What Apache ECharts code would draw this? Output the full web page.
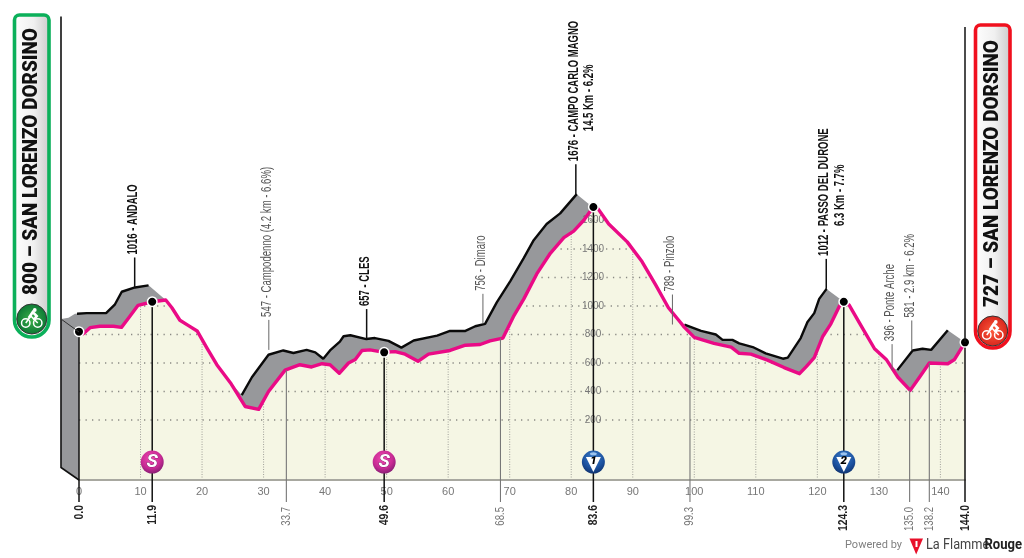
<!DOCTYPE html>
<html><head><meta charset="utf-8">
<style>html,body{margin:0;padding:0;background:#fff}#c{width:1024px;height:558px}</style>
<script src="https://cdn.jsdelivr.net/npm/echarts@6/dist/echarts.min.js"></script>
</head><body><div id="c"></div>
<script>
const pinkKm=[0,0.7,1.8,3.4,5.6,6.9,8.0,9.6,11.9,14.1,15.1,16.4,17.8,19.2,20.8,22.4,24.6,27.0,29.2,30.8,33.5,35.9,37.8,39.5,40.8,42.3,43.8,44.9,46.0,47.3,49.6,51.4,53.0,55.1,56.8,60.3,62.8,65.2,66.8,68.9,70.6,72.3,74.4,76.6,78.8,80.4,82.0,83.6,84.4,86.1,89.1,91.5,93.7,95.8,97.7,98.4,100.0,103.2,106.0,107.3,109.2,111.9,114.6,117.1,118.2,119.5,120.9,122.2,123.6,124.3,125.2,127.1,129.3,131.2,133.1,135.1,136.6,138.2,141.2,142.3,144];
const pinkElev=[820,805,848,858,858,850,912,1005,1030,1042,988,900,862,825,705,588,462,295,275,400,550,588,572,595,588,528,600,625,688,692,675,680,662,612,662,688,725,730,755,775,925,1050,1225,1370,1480,1525,1600,1695,1680,1575,1450,1312,1150,988,888,850,780,738,712,668,662,620,568,525,575,638,788,875,1000,1030,1005,862,700,625,500,408,500,600,595,625,745];
const blackKm=[-2.9,-1.7,-0.65,1.25,4.4,5.85,6.95,9.1,11.3,null,14.1,null,20.8,null,26.45,28.1,30.8,33.2,34.85,37.0,38.4,39.7,40.8,42.4,43.0,44.1,46.7,48.1,50.3,52.4,54.4,58.2,60.3,62.8,64.4,66.0,67.9,70.1,72.3,73.9,76.0,78.2,80.9,null,83.6,null,95,null,98.4,101.1,103.5,104.6,106.2,107.3,109.5,111.6,114.4,115.2,117.3,118.4,119.5,120.3,121.5,null,124.3,null,129,null,133.0,135.5,137.1,138.5,141.2,null,144];
const blackElev=[908,918,945,950,950,1012,1100,1130,1145,null,1042,null,650,null,375,500,658,688,670,692,675,630,688,750,788,795,768,775,755,708,758,792,825,825,858,875,1025,1175,1338,1462,1575,1650,1785,null,1690,null,950,null,870,825,800,762,762,738,712,668,630,638,775,888,950,1050,1120,null,1030,null,650,null,550,688,700,692,830,null,745];
const yTicks=[200,400,600,800,1000,1200,1400,1600];
const topKm=[11.9,33.7,49.6,68.5,83.6,99.3,124.3,135.0,138.2];
const topElev=[1130,692,768,875,1785,870,1120,550,688];
const topLabels=['1016 - ANDALO','547 - Campodenno (4.2 km - 6.6%)','657 - CLES','756 - Dimaro','1676 - CAMPO CARLO MAGNO','789 - Pinzolo','1012 - PASSO DEL DURONE','396 - Ponte Arche','581 - 2.9 km - 6.2%'];
const topSub=['','','','','14.5 Km - 6.2%','','6.3 Km - 7.7%','',''];
const topMajor=[1,0,1,0,1,0,1,0,0];
const mainKm=[0,11.9,49.6,83.6,124.3,144];
const mainElev=[820,1030,675,1695,1030,745];
const mainLabels=['0.0','11.9','49.6','83.6','124.3','144.0'];
const minorKm=[33.7,68.5,99.3,135.0,138.2];
const minorElev=[550,775,780,408,600];
const minorLabels=['33.7','68.5','99.3','135.0','138.2'];
const badgeKm=[11.9,49.6,83.6,124.3];
const badgeText=['S','S','1','2'];
const startLabel='800 – SAN LORENZO DORSINO';
const finishLabel='727 – SAN LORENZO DORSINO';

const BASE=-221, NARROW='"Liberation Sans Narrow","Liberation Sans",sans-serif';
function pinkAt(k){for(let i=1;i<pinkKm.length;i++){if(k<=pinkKm[i]){const t=(k-pinkKm[i-1])/(pinkKm[i]-pinkKm[i-1]);return pinkElev[i-1]+t*(pinkElev[i]-pinkElev[i-1]);}}return pinkElev[pinkElev.length-1];}
const gridH=[];
yTicks.forEach(e=>{let inside=false,x0=0;
  for(let i=0;i<pinkKm.length;i++){const above=pinkElev[i]>=e;
    if(i===0){if(above){inside=true;x0=0;}continue;}
    if(above!==inside){const t=(e-pinkElev[i-1])/(pinkElev[i]-pinkElev[i-1]);const x=pinkKm[i-1]+t*(pinkKm[i]-pinkKm[i-1]);
      if(above){x0=x;inside=true;}else{gridH.push([x0,e],[x,e],[x,null]);inside=false;}}}
  if(inside)gridH.push([x0,e],[144,e],[144,null]);});
const gridV=[];for(let k=10;k<=140;k+=10){gridV.push([k,BASE],[k,pinkAt(k)],[k,null]);}
const SHIFT=2.85;

const seriesList=[
 {type:'custom',z:1,silent:true,data:[[0,0]],renderItem(p,api){
   const pts=[];blackKm.forEach((k,i)=>{if(k!==null)pts.push(api.coord([k,blackElev[i]]));});
   pts.push(api.coord([144,BASE]),api.coord([0,BASE]),api.coord([-2.9,-130]));
   return {type:'polygon',shape:{points:pts},style:{fill:'#97989b'}};}},
 {type:'line',z:2,silent:true,clip:false,showSymbol:false,data:blackKm.map((k,i)=>[k===null?0:k,blackElev[i]]),lineStyle:{color:'#0a0a0a',width:2.4},connectNulls:false},
 {type:'line',z:3,silent:true,showSymbol:false,data:pinkKm.map((k,i)=>[k,pinkElev[i]]),lineStyle:{width:0},areaStyle:{color:'#f5f6e4',opacity:1,origin:'start'}},
 {type:'line',z:4,silent:true,showSymbol:false,data:gridH,lineStyle:{color:'#8a8a84',width:1.3,type:[1.3,5.2]}},
 {type:'line',z:4,silent:true,showSymbol:false,data:gridV,lineStyle:{color:'#a0a09a',width:1,type:[1,1.5]}},
 {type:'line',z:6,silent:true,showSymbol:false,data:pinkKm.map((k,i)=>[k,pinkElev[i]]),lineStyle:{color:'#ea0a86',width:3.4,join:'round'}},
 {type:'custom',z:7,silent:true,data:topKm.map((k,i)=>[k,topElev[i]]),renderItem(p,api){
   const i=p.dataIndex,a=api.coord([topKm[i]-SHIFT,topElev[i]]),m=topMajor[i],col=m?'#111':'#555',len=m?30:(i===7?26:30);
   const fs=14.5,sx=m?0.655:0.66;
   const kids=[{type:'line',shape:{x1:a[0],y1:a[1],x2:a[0],y2:a[1]-len},style:{stroke:m?'#111':'#666',lineWidth:m?1.5:1}},
    {type:'text',x:a[0]-2,y:a[1]-len-3,rotation:Math.PI/2,scaleX:sx,style:{text:topLabels[i],fill:col,fontFamily:NARROW,fontSize:fs,fontWeight:m?'bold':'normal',align:'left',verticalAlign:'middle',textAlign:'left',textVerticalAlign:'middle'}}];
   if(topSub[i])kids.push({type:'text',x:a[0]+13.5,y:a[1]-len-3-30,rotation:Math.PI/2,scaleX:sx,style:{text:topSub[i],fill:col,fontFamily:NARROW,fontSize:fs,fontWeight:'bold',align:'left',verticalAlign:'middle',textAlign:'left',textVerticalAlign:'middle'}});
   return {type:'group',children:kids};}},
 {type:'custom',z:7,silent:true,data:minorKm.map((k,i)=>[k,minorElev[i]]),renderItem(p,api){
   const i=p.dataIndex,a=api.coord([minorKm[i],minorElev[i]]),b=api.coord([minorKm[i],BASE]);
   return {type:'group',children:[{type:'line',shape:{x1:a[0],y1:a[1],x2:a[0],y2:b[1]+22},style:{stroke:'#777',lineWidth:1.1}},
    {type:'text',x:a[0],y:b[1]+27,rotation:Math.PI/2,scaleX:0.8,style:{text:minorLabels[i],fill:'#777',fontFamily:NARROW,fontSize:12,align:'right',verticalAlign:'middle',textAlign:'right',textVerticalAlign:'middle'}}]};}},
 {type:'custom',z:7,silent:true,data:mainKm.map((k,i)=>[k,mainElev[i]]),renderItem(p,api){
   const i=p.dataIndex,a=api.coord([mainKm[i],mainElev[i]]),b=api.coord([mainKm[i],BASE]);
   return {type:'group',children:[{type:'line',shape:{x1:a[0],y1:a[1],x2:a[0],y2:b[1]+22},style:{stroke:'#111',lineWidth:1.5}},
    {type:'text',x:a[0],y:b[1]+25,rotation:Math.PI/2,scaleX:0.8,style:{text:mainLabels[i],fill:'#222',fontFamily:NARROW,fontSize:13,fontWeight:'bold',align:'right',verticalAlign:'middle',textAlign:'right',textVerticalAlign:'middle'}}]};}},
 {type:'custom',z:8,silent:true,data:badgeKm.map(k=>[k,-95]),renderItem(p,api){
   const i=p.dataIndex,a=api.coord([badgeKm[i],-95]),isS=badgeText[i]==='S',x=a[0],y=a[1];
   const fill=isS?new echarts.graphic.RadialGradient(.45,.35,.7,[{offset:0,color:'#f04bb0'},{offset:.6,color:'#c92b95'},{offset:1,color:'#7d1c6e'}])
     :new echarts.graphic.RadialGradient(.5,.3,.75,[{offset:0,color:'#3f7fc9'},{offset:.6,color:'#1c52a0'},{offset:1,color:'#0f2f68'}]);
   const kids=[{type:'circle',z2:1,shape:{cx:x,cy:y,r:11.5},style:{fill:fill}}];
   if(isS){kids.push({type:'text',z2:3,x:x,y:y,style:{text:'S',fill:'#fff',stroke:'#5a1450',lineWidth:0.6,fontFamily:'Roboto,sans-serif',fontSize:19,fontWeight:'bold',fontStyle:'italic',align:'center',verticalAlign:'middle',textAlign:'center',textVerticalAlign:'middle'}});}
   else{kids.push({type:'ellipse',z2:2,shape:{cx:x,cy:y-8.3,rx:3.5,ry:1.6},style:{fill:'#9cc4ee'}});
     kids.push({type:'polygon',z2:2,shape:{points:[[x-7.5,y-5],[x+7.5,y-5],[x,y+10]]},style:{fill:'#fff'}});
     kids.push({type:'text',z2:3,x:x,y:y-0.5,style:{text:badgeText[i],fill:'#000',fontFamily:'Roboto,sans-serif',fontSize:11.5,fontWeight:'900',fontStyle:'italic',align:'center',verticalAlign:'middle',textAlign:'center',textVerticalAlign:'middle'}});}
   return {type:'group',children:kids};}},
 {type:'scatter',z:9,silent:true,symbol:'circle',symbolSize:9.5,data:mainKm.map((k,i)=>[k,mainElev[i]]),itemStyle:{color:'#000',borderColor:'#fff',borderWidth:1.5,opacity:1}}
];

function bike(cx,cy,c){return [
 {type:'circle',shape:{cx:cx-6,cy:cy+4,r:4.2},style:{fill:'none',stroke:c,lineWidth:1.5},z:101},
 {type:'circle',shape:{cx:cx+6,cy:cy+4,r:4.2},style:{fill:'none',stroke:c,lineWidth:1.5},z:101},
 {type:'polyline',shape:{points:[[cx-6,cy+4],[cx-1,cy-3],[cx+6,cy+4]]},style:{fill:'none',stroke:c,lineWidth:1.5},z:101},
 {type:'polyline',shape:{points:[[cx-3,cy-1],[cx+1,cy-7],[cx+5,cy-3],[cx+2,cy+1]]},style:{fill:'none',stroke:c,lineWidth:2.6},z:101},
 {type:'circle',shape:{cx:cx+3,cy:cy-9,r:1.9},style:{fill:c},z:101}];}
function pill(x,y,w,h,col,label,iconCy,fillA,fillB){
 const tx=x+w/2;
 return [
 {type:'rect',shape:{x:x,y:y,width:w,height:h,r:[5,5,17,17]},style:{fill:new echarts.graphic.LinearGradient(0,0,1,0,[{offset:0,color:'#fff'},{offset:.55,color:'#f0f0f0'},{offset:1,color:'#c8c8c8'}]),stroke:col,lineWidth:3.6},z:100},
 {type:'text',x:tx,y:iconCy-24,rotation:Math.PI/2,scaleX:0.925,style:{text:label,fill:'#111',fontFamily:'Roboto,sans-serif',fontSize:20.5,fontWeight:'900',align:'left',verticalAlign:'middle',textAlign:'left',textVerticalAlign:'middle'},z:101},
 {type:'circle',shape:{cx:tx,cy:iconCy,r:15},style:{fill:new echarts.graphic.RadialGradient(.5,.5,.6,[{offset:0,color:fillA},{offset:.8,color:fillB},{offset:1,color:'#222'}]),stroke:'#333',lineWidth:1},z:101},
 ...bike(tx,iconCy,'#fff')];
}
const graphicEls=[
 {type:'polyline',shape:{points:[[61,16.5],[61,467.5],[79,480]]},style:{fill:'none',stroke:'#111',lineWidth:1.6},z:90},
 {type:'line',shape:{x1:61,y1:319,x2:79,y2:332},style:{stroke:'#333',lineWidth:1},z:90},
 {type:'line',shape:{x1:965,y1:27,x2:965,y2:342},style:{stroke:'#111',lineWidth:1.5},z:90},
 ...pill(14.5,15,34.5,322,'#0bb05a',startLabel,319,'#3cb04a','#0d7a35'),
 ...pill(975.5,25,34.5,323,'#f0101e',finishLabel,331,'#ff5a3a','#d8281e'),
 {type:'text',x:845,y:545.5,style:{text:'Powered by',fill:'#808080',fontFamily:'Roboto,sans-serif',fontSize:11,align:'left',verticalAlign:'middle',textAlign:'left',textVerticalAlign:'middle'},z:100},
 {type:'polygon',shape:{points:[[909.5,538.5],[923,538.5],[916.2,554.5]]},style:{fill:'#e8102a'},z:100},
 {type:'polygon',shape:{points:[[915.5,541],[917.5,541],[917.5,547],[915.5,547]]},style:{fill:'#fff'},z:101},
 {type:'text',x:926,y:545.5,scaleX:0.88,style:{text:'La Flamme',fill:'#444',fontFamily:'Roboto,sans-serif',fontSize:14.5,align:'left',verticalAlign:'middle',textAlign:'left',textVerticalAlign:'middle'},z:100},
 {type:'text',x:984.5,y:545.5,scaleX:0.9,style:{text:'Rouge',fill:'#222',fontFamily:'Roboto,sans-serif',fontSize:14.5,fontWeight:'bold',align:'left',verticalAlign:'middle',textAlign:'left',textVerticalAlign:'middle'},z:100}
];

const chart=echarts.init(document.getElementById('c'),null,{renderer:'canvas'});
chart.setOption({
 animation:false,backgroundColor:'#fff',
 grid:{left:79,right:59,top:192,bottom:78},
 xAxis:{type:'value',min:0,max:144,interval:10,z:5,
   axisLine:{show:true,onZero:false,lineStyle:{color:'#a8a8a0',width:2}},axisTick:{show:false},splitLine:{show:false},
   axisLabel:{color:'#777',fontSize:11,fontFamily:NARROW,margin:6,showMaxLabel:false}},
 yAxis:{type:'value',min:BASE,max:1800,z:5,position:'left',offset:-514,
   axisLine:{show:false},axisTick:{show:false},splitLine:{show:false},
   axisLabel:{color:'#777',fontSize:10,fontFamily:NARROW,margin:0,align:'center',customValues:yTicks,formatter:v=>String(v)}},
 graphic:{elements:graphicEls},
 series:seriesList
});
</script></body></html>
